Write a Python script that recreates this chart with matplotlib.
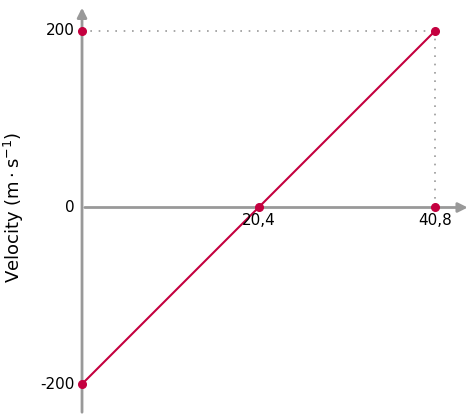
import matplotlib.pyplot as plt

# data
t_line = [0, 40.8]
v_line = [-200, 200]
pts_t = [0, 0, 20.4, 40.8, 40.8]
pts_v = [200, -200, 0, 0, 200]
y_ticks = [200, 0, -200]
y_labels = ['200', '0', '-200']
x_ticks = [20.4, 40.8]
x_labels = ['20,4', '40,8']

red = '#C4003F'
gray = '#999999'

fig = plt.figure(figsize=(4.75, 4.15), dpi=100)
ax = fig.add_axes([0, 0, 1, 1])
ax.set_xlim(-9.48, 45.42)
ax.set_ylim(-235.1, 235.1)
ax.axis('off')

# axes with arrows
ax.annotate('', xy=(0, 229.5), xytext=(0, -235.1),
            arrowprops=dict(arrowstyle='-|>', color=gray, lw=2, mutation_scale=14))
ax.annotate('', xy=(44.9, 0), xytext=(0, 0),
            arrowprops=dict(arrowstyle='-|>', color=gray, lw=2, mutation_scale=14))

# dotted guides
ax.plot([0, 40.8], [200, 200], color=gray, lw=1.2, ls=(0, (1, 4)))
ax.plot([40.8, 40.8], [0, 200], color=gray, lw=1.2, ls=(0, (1, 4)))

ax.plot(t_line, v_line, color=red, lw=1.5, zorder=3)
ax.plot(pts_t, pts_v, 'o', color=red, ms=5.5, zorder=4)

for v, lab in zip(y_ticks, y_labels):
    ax.text(-0.8, v, lab, ha='right', va='center', fontsize=11)
for t, lab in zip(x_ticks, x_labels):
    ax.text(t, -6, lab, ha='center', va='top', fontsize=11)

ax.text(-7.9, 0, r'Velocity $\left(\mathrm{m\cdot s^{-1}}\right)$', rotation=90,
        ha='center', va='center', fontsize=13)

fig.savefig('out.png')
